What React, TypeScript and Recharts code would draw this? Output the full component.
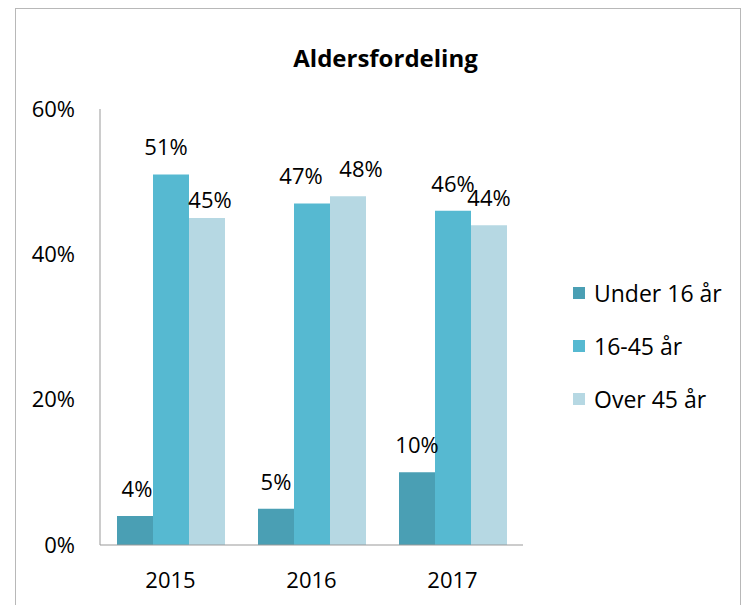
import { BarChart, Bar, XAxis, YAxis, LabelList } from 'recharts';

const years = ['2015', '2016', '2017'];
const under16 = [4, 5, 10];
const age16to45 = [51, 47, 46];
const over45 = [45, 48, 44];
const yTicks = [0, 20, 40, 60];

const seriesNames = ['Under 16 år', '16-45 år', 'Over 45 år'];
const colors = ['#4a9fb4', '#56b9d1', '#b6d8e3'];

// hand-moved labels in the original (dx, dy per bar)
const labelShift = [
  [[2, 0], [0, 0], [0, 0]],
  [[-5, 0], [-11, 0], [0, 0]],
  [[3, 9], [13, 0], [0, 0]],
];

const data = years.map((y, i) => ({
  year: y,
  a: under16[i],
  b: age16to45[i],
  c: over45[i],
}));

const font = '"Open Sans", sans-serif';

const makeLabel = (s: number) => (props: any) => {
  const { x, y, width, value, index } = props;
  const [dx, dy] = labelShift[s][index] || [0, 0];
  return (
    <text
      x={x + width / 2 + dx}
      y={y - 28 + dy}
      textAnchor="middle"
      dominantBaseline="central"
      fill="#000"
      fontSize={22}
      fontFamily={font}
    >
      {`${value}%`}
    </text>
  );
};

export default function App() {
  return (
    <div style={{ position: 'absolute', left: 0, top: 0, width: 751, height: 605, overflow: 'hidden', background: '#fff' }}>
      <div style={{ position: 'absolute', left: 15, top: 8, width: 724, height: 640, border: '1px solid #b8b8b8' }} />
      <div style={{ position: 'absolute', left: 0, top: 42, width: 771, textAlign: 'center', fontFamily: font, fontWeight: 'bold', fontSize: 24, lineHeight: '32px' }}>
        Aldersfordeling
      </div>
      <div style={{ position: 'absolute', left: 0, top: 0 }}>
        <BarChart
          width={751}
          height={605}
          data={data}
          margin={{ top: 109, right: 228, bottom: 0, left: 40 }}
          barCategoryGap={17}
          barGap={0}
        >
          <XAxis
            dataKey="year"
            stroke="#999"
            tickLine={false}
            tickSize={8}
            tickMargin={19}
            height={60}
            tick={{ fill: '#000', fontSize: 22, fontFamily: font }}
          />
          <YAxis
            domain={[0, 60]}
            ticks={yTicks}
            tickFormatter={(v: number) => `${v}%`}
            stroke="#999"
            tickLine={false}
            tickSize={8}
            tickMargin={17}
            width={60}
            tick={{ fill: '#000', fontSize: 22, fontFamily: font }}
          />
          <Bar dataKey="a" name={seriesNames[0]} fill={colors[0]} isAnimationActive={false}>
            <LabelList dataKey="a" content={makeLabel(0)} />
          </Bar>
          <Bar dataKey="b" name={seriesNames[1]} fill={colors[1]} isAnimationActive={false}>
            <LabelList dataKey="b" content={makeLabel(1)} />
          </Bar>
          <Bar dataKey="c" name={seriesNames[2]} fill={colors[2]} isAnimationActive={false}>
            <LabelList dataKey="c" content={makeLabel(2)} />
          </Bar>
        </BarChart>
      </div>
      <div style={{ position: 'absolute', left: 573, top: 266, fontFamily: font, fontSize: 23, color: '#000' }}>
        {seriesNames.map((n, i) => (
          <div key={n} style={{ display: 'flex', alignItems: 'center', height: 53 }}>
            <span style={{ width: 12, height: 12, background: colors[i], marginRight: 9 }} />
            {n}
          </div>
        ))}
      </div>
    </div>
  );
}
